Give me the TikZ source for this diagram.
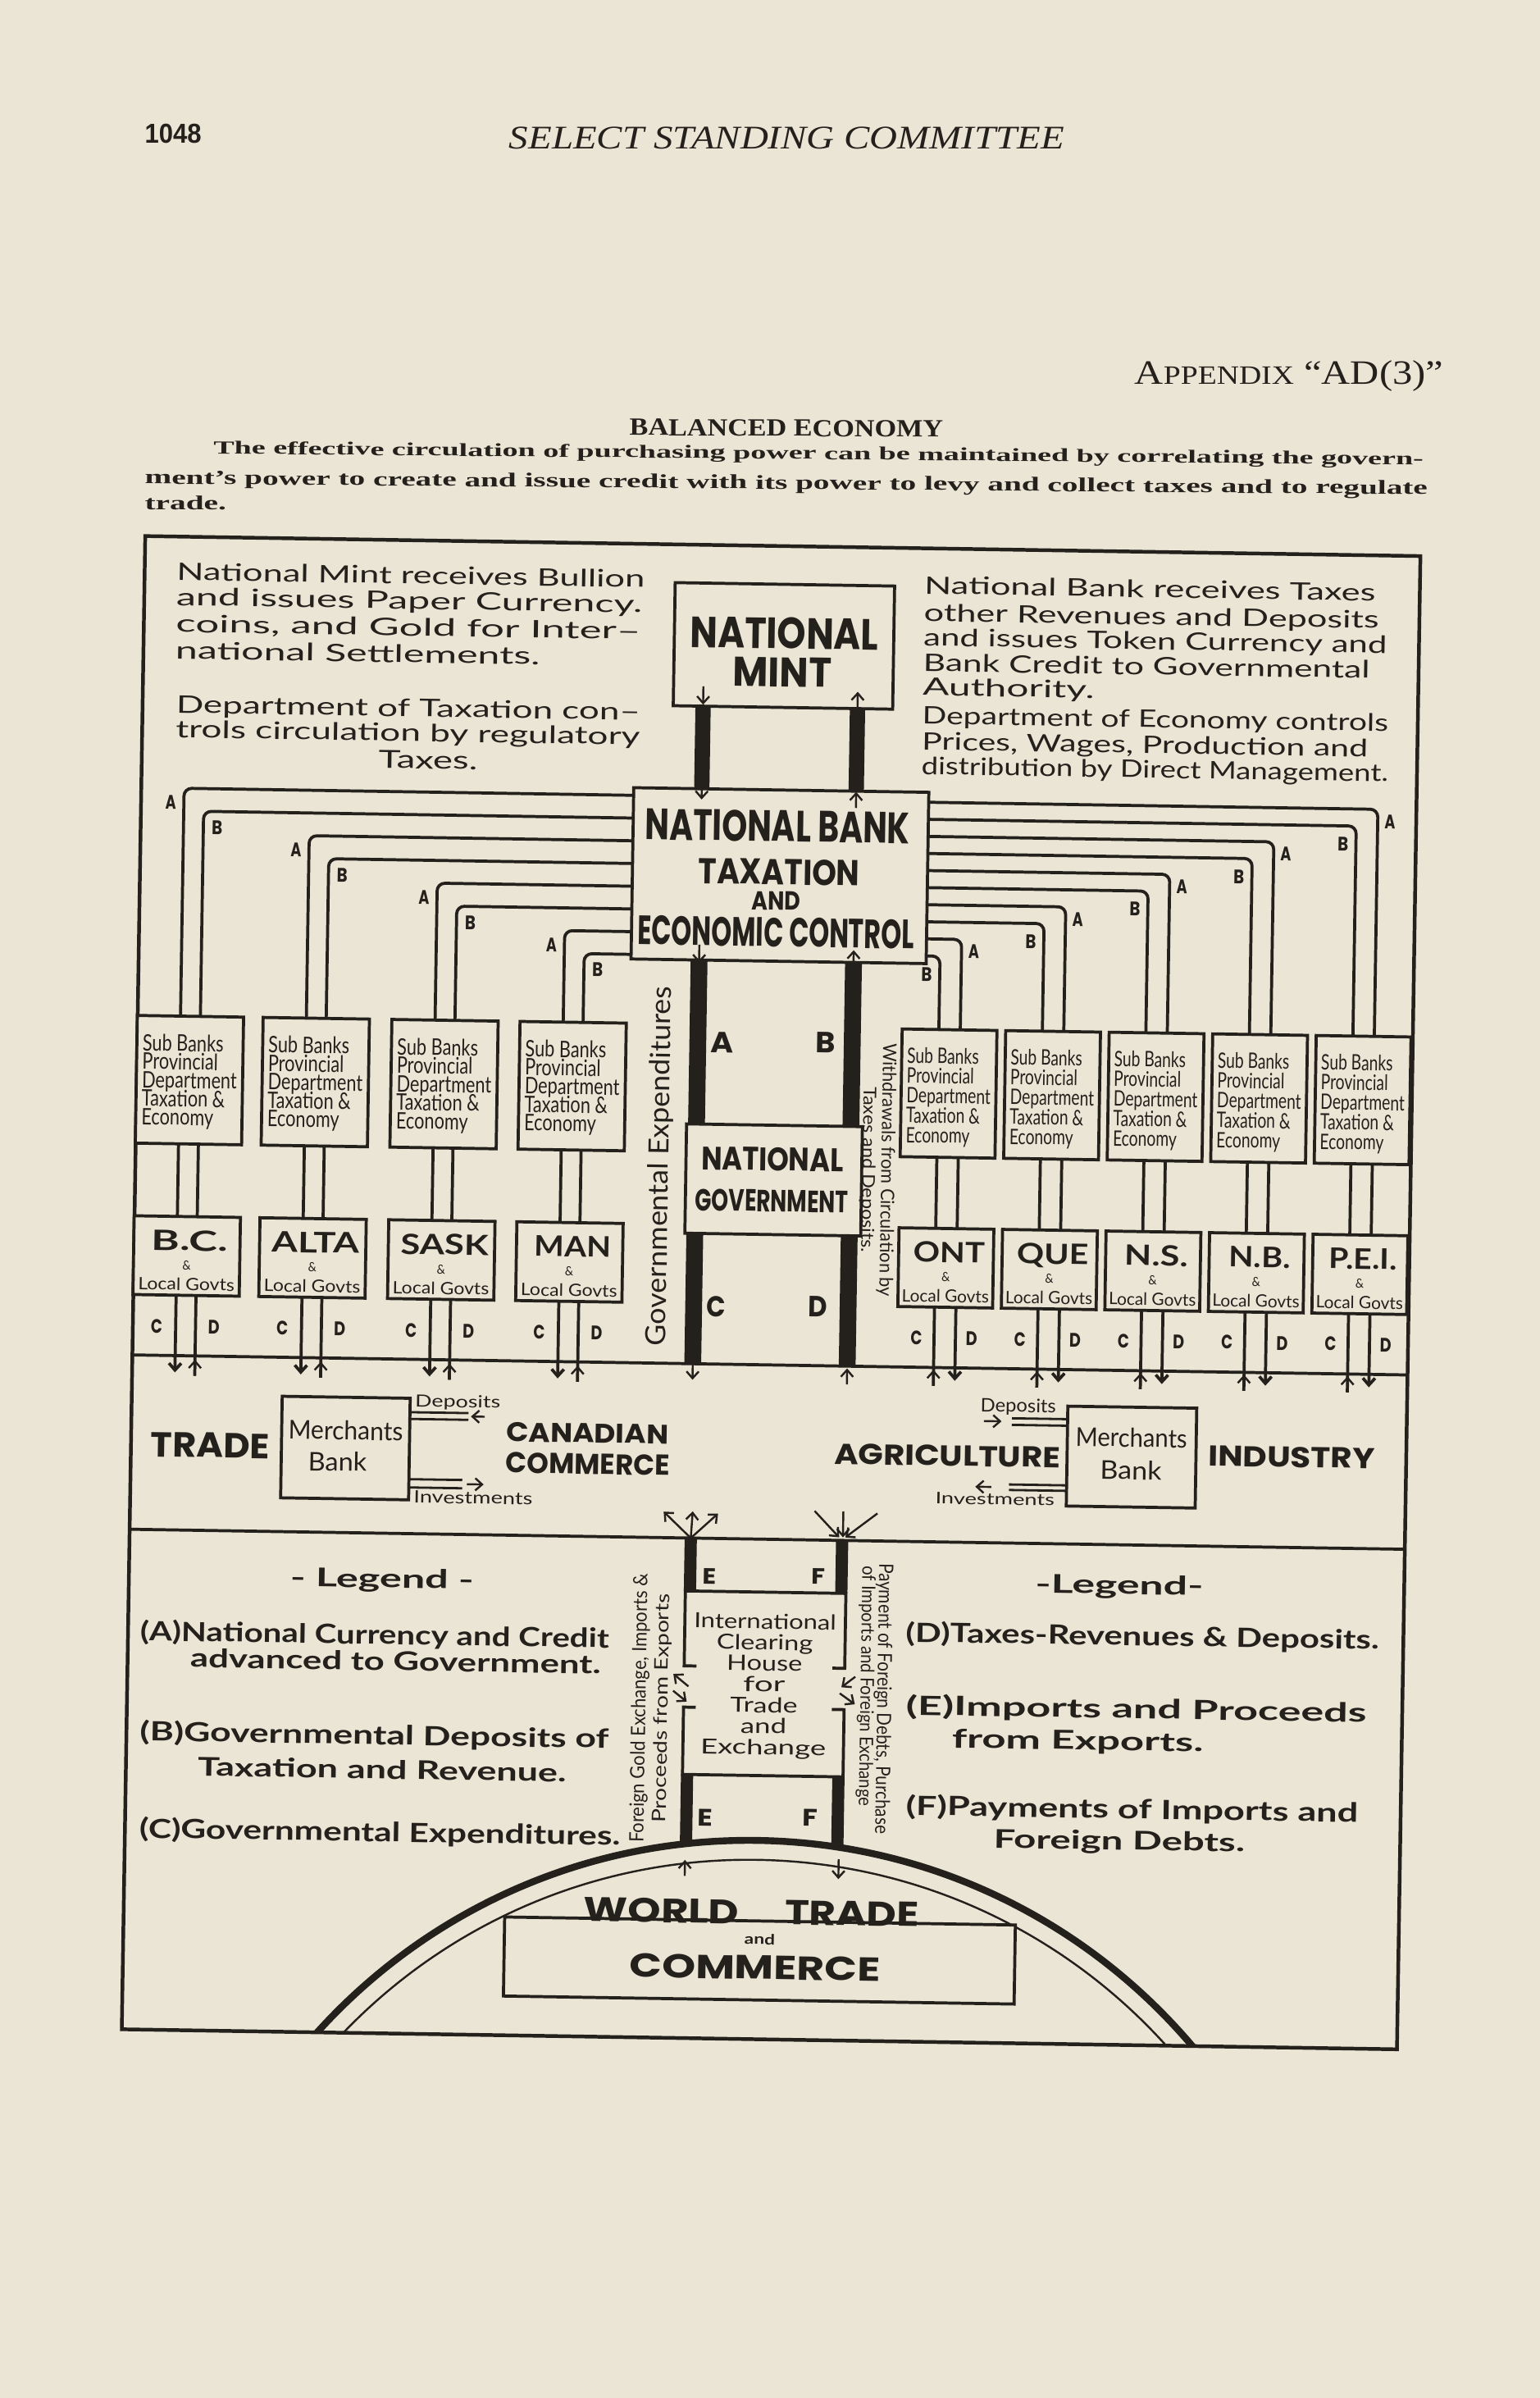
\documentclass[tikz,border=0pt]{standalone}
\usepackage{fontspec}
\usepackage{graphicx}
\usetikzlibrary{arrows.meta}
\setmainfont{Liberation Serif}
\newfontfamily\hand{Lato}
\newfontfamily\caps{Poppins}
\newfontfamily\hsans{Liberation Sans}
\definecolor{paper}{RGB}{234,229,213}
\definecolor{ink}{RGB}{36,32,28}
\newcommand\RB[3]{\resizebox{#1pt}{#2pt}{#3}}
\newcommand\VB{\lineskiplimit=-1000pt\lineskip=0pt}
\newcommand\SBtext[3]{\resizebox{#1pt}{#3pt}{\vbox{\hand\fontsize{10}{#2}\selectfont
  \baselineskip=#2pt\lineskiplimit=-100pt\lineskip=0pt
  \hbox{Sub Banks}\hbox{Provincial}\hbox{Department}\hbox{Taxation \&}\hbox{Economy}}}}
\tikzset{
  lbl/.style={inner sep=0pt, outer sep=0pt, anchor=base west, text=ink},
  lblc/.style={inner sep=0pt, outer sep=0pt, anchor=base, text=ink},
  box/.style={draw=ink, line width=2pt, fill=paper, inner sep=0pt, outer sep=0pt},
  conn/.style={ink, line width=2pt, rounded corners=5pt},
  >={Straight Barb[length=4.5pt,width=8pt]},
  arr/.style={ink, line width=1.3pt, ->},
}
% sub bank box: name, cx, top, boxw, textw, inner skip, height
\newcommand\SB[7]{%
  \node[box, minimum width=#4, minimum height=83.5, anchor=north] (#1) at (#2,#3) {};
  \node[inner sep=0pt, outer sep=0pt, anchor=north, text=ink] (#1t) at (#2,#3+12) {\SBtext{#5}{#6}{#7}};
}
% province box: name, cx, label, labelw, boxw, localw
\newcommand\PV[6]{%
  \node[box, minimum width=#5, minimum height=51.5, anchor=north] (#1) at (#2,795) {};
  \node[lblc] (#1a) at (#2+2,817.3) {\RB{#4}{13.4}{\hand\bfseries #3}};
  \node[lblc] (#1b) at (#2,829.8) {\RB{5.5}{6}{\hand\&}};
  \node[lblc] (#1c) at (#2,843.2) {\RB{#6}{8.2}{\hand Local Govts}};
}
\begin{document}
\begin{tikzpicture}[x=1pt,y=-1pt]
\fill[paper] (0,0) rectangle (1007,1568);
\useasboundingbox (0,0) rectangle (1007,1568);
% ---------- header ----------
\node[lbl] (pg) at (94.7,93.5) {\RB{37}{12.5}{\hsans\bfseries 1048}};
\node[lbl] (runhead) at (333,97.5) {\RB{363}{14.3}{\itshape SELECT STANDING COMMITTEE}};
\node[lbl] (app) at (742,251) {\RB{202}{15.5}{{\fontsize{20}{20}\selectfont A}{\fontsize{15.5}{15.5}\selectfont PPENDIX}\fontsize{20}{20}\selectfont\ “AD(3)”}};
\node[lblc, rotate=-0.3] (title) at (514.2,285.2) {\RB{205}{10.7}{\bfseries BALANCED ECONOMY}};
\node[lbl, rotate=-0.53] (p1) at (139.6,296.7) {\RB{791.2}{8.5}{\bfseries The effective circulation of purchasing power can be maintained by correlating the govern-}};
\node[lbl, rotate=-0.48] (p2) at (94.7,316.3) {\RB{838.8}{9}{\bfseries ment’s power to create and issue credit with its power to levy and collect taxes and to regulate}};
\node[lbl] (p3) at (94.7,333.2) {\RB{53.3}{9}{\bfseries trade.}};

\begin{scope}[rotate around={-0.9:(94,349)}, transform shape]
% frame and separators
\draw[ink, line width=2.4pt] (95,350.5) rectangle (929,1327);
\draw[ink, line width=2pt] (95,886) -- (929,886);
\draw[ink, line width=2pt] (95,1000) -- (929,1000);

% ---------- top texts ----------
\node[lbl] (mintnote) at (116,430.5) {\vbox{\VB
  \hbox{\RB{306}{11.6}{\hand National Mint receives Bullion}}
  \baselineskip=16.5pt\hbox{\RB{304.6}{11.6}{\hand and issues Paper Currency.}}
  \baselineskip=17.5pt\hbox{\RB{304}{11.6}{\hand coins, and Gold for Inter–}}
  \baselineskip=17.5pt\hbox{\RB{238.4}{11.6}{\hand national Settlements.}}}};
\node[lbl] (taxnote) at (117,499.8) {\vbox{\VB
  \hbox{\RB{303.5}{11.6}{\hand Department of Taxation con–}}
  \baselineskip=16.1pt\hbox{\RB{303.5}{11.6}{\hand trols circulation by regulatory}}
  \baselineskip=17.9pt\hbox{\kern133pt\RB{64.7}{11.6}{\hand Taxes.}}}};
\node[lbl] (banknote) at (605,498.3) {\vbox{\VB
  \hbox{\RB{295}{11.6}{\hand National Bank receives Taxes}}
  \baselineskip=17.9pt\hbox{\RB{297.5}{11.6}{\hand other Revenues and Deposits}}
  \baselineskip=16.1pt\hbox{\RB{303}{11.6}{\hand and issues Token Currency and}}
  \baselineskip=16.6pt\hbox{\RB{292}{11.6}{\hand Bank Credit to Governmental}}
  \baselineskip=15.8pt\hbox{\RB{112.2}{11.6}{\hand Authority.}}
  \baselineskip=18.6pt\hbox{\RB{304.7}{11.6}{\hand Department of Economy controls}}
  \baselineskip=17pt\hbox{\RB{291.6}{11.6}{\hand Prices, Wages, Production and}}
  \baselineskip=16pt\hbox{\RB{305.2}{11.6}{\hand distribution by Direct Management.}}}};

% ---------- A/B connectors ----------
\foreach \x/\y in {123/515, 136/529.86, 205.3/544.71, 218.3/559.57, 289.5/574.43, 302.5/589.29, 373.3/604.14, 386.3/619}
  {\draw[conn] (417,\y) -- (\x,\y) -- (\x,664);}
\foreach \x/\y [count=\i] in {123/515, 205.3/544.71, 289.5/574.43, 373.3/604.14}
  {\node[lblc] (la\i) at (\x-8.5,\y+14) {\RB{7}{9}{\caps\bfseries A}};}
\foreach \x/\y [count=\i] in {136/529.86, 218.3/559.57, 302.5/589.29, 386.3/619}
  {\node[lblc] (lb\i) at (\x+9,\y+15) {\RB{7}{9}{\caps\bfseries B}};}
\foreach \x/\y in {903.8/516.5, 889.8/527.67, 836.1/538.83, 822.1/550, 768.4/561.17, 754.4/572.33, 700.7/583.5, 686.7/594.67, 633/605.83, 619/617}
  {\draw[conn] (610,\y) -- (\x,\y) -- (\x,665);}
\foreach \x/\y [count=\i] in {903.8/516.5, 836.1/538.83, 768.4/561.17, 700.7/583.5, 633/605.83}
  {\node[lblc] (ra\i) at (\x+8,\y+12.5) {\RB{7}{9}{\caps\bfseries A}};}
\foreach \x/\y [count=\i] in {889.8/527.67, 822.1/550, 754.4/572.33, 686.7/594.67, 619/617}
  {\node[lblc] (rb\i) at (\x-8.5,\y+16.5) {\RB{7}{9}{\caps\bfseries B}};}

% sub bank -> province lines
\foreach \x in {123,136,205.3,218.3,289.5,302.5,373.3,386.3}
  {\draw[conn] (\x,747.5) -- (\x,795);}
\foreach \x in {619,633,686.7,700.7,754.4,768.4,822.1,836.1,889.8,903.8}
  {\draw[conn] (\x,748.5) -- (\x,795);}

% C / D lines, left group (C down, D up)
\foreach \x [count=\i] in {123,205.3,289.5,373.3}
  {\draw[conn,->] (\x,846.5) -- (\x,897);
   \node[lblc] (lc\i) at (\x-12.5,871.5) {\RB{7.5}{9}{\caps\bfseries C}};}
\foreach \x [count=\i] in {136,218.3,302.5,386.3}
  {\draw[conn] (\x,846.5) -- (\x,899);
   \draw[arr] (\x,899) -- (\x,888.5);
   \node[lblc] (ld\i) at (\x+12,871.5) {\RB{7.5}{9}{\caps\bfseries D}};}
% right group (C up, D down)
\foreach \x [count=\i] in {619,686.7,754.4,822.1,889.8}
  {\draw[conn] (\x,846.5) -- (\x,898);
   \draw[arr] (\x,898) -- (\x,887.5);
   \node[lblc] (rc\i) at (\x-11.5,871) {\RB{7.5}{9}{\caps\bfseries C}};}
\foreach \x [count=\i] in {633,700.7,768.4,836.1,903.8}
  {\draw[conn,->] (\x,846.5) -- (\x,894.5);
   \node[lblc] (rd\i) at (\x+10.5,871) {\RB{7.5}{9}{\caps\bfseries D}};}

% ---------- thick bars ----------
\draw[ink, line width=10pt] (461.5,456) -- (461.5,510);
\draw[ink, line width=10pt] (562.5,456) -- (562.5,510);
\draw[ink, line width=11pt] (461.5,622) -- (461.5,886);
\draw[ink, line width=11pt] (562.5,622) -- (562.5,886);

% ---------- central boxes ----------
\node[box, minimum width=143.5, minimum height=80.5] (mint) at (513.75,415.75) {};
\node[lblc] (mintt) at (513,442.5) {\vbox{\VB
  \hbox to 130pt{\hss\kern2pt\RB{123}{20.3}{\caps\bfseries NATIONAL}\hss}
  \baselineskip=25pt\hbox to 130pt{\hss\RB{64.5}{19}{\caps\bfseries MINT}\hss}}};
\node[box, minimum width=193, minimum height=112] (bank) at (513.5,566) {};
\node[lblc] (bankt) at (511.5,612.5) {\vbox{\VB
  \hbox to 185pt{\hss\RB{173}{20.4}{\caps\bfseries NATIONAL BANK}\hss}
  \baselineskip=28.2pt\hbox to 185pt{\hss\kern3pt\RB{105.4}{16.7}{\caps\bfseries TAXATION}\hss}
  \baselineskip=16.6pt\hbox to 185pt{\hss\RB{32}{12}{\caps\bfseries AND}\hss}
  \baselineskip=24pt\hbox to 185pt{\hss\RB{180.7}{19}{\caps\bfseries ECONOMIC CONTROL}\hss}}};
\node[box, minimum width=115, minimum height=71.5] (gov) at (512.5,765) {};
\node[lblc] (govt) at (511.5,785.8) {\vbox{\VB
  \hbox to 108pt{\hss\RB{93}{15.2}{\caps\bfseries NATIONAL}\hss}
  \baselineskip=26.8pt\hbox to 108pt{\hss\RB{100}{14.3}{\caps\bfseries GOVERNMENT}\hss}}};
\node[lblc] (barA) at (477.2,682.6) {\RB{15}{13.4}{\caps\bfseries A}};
\node[lblc] (barB) at (545.2,681.5) {\RB{13}{13.4}{\caps\bfseries B}};
\node[lblc] (barC) at (476.4,855.1) {\RB{12.5}{13.4}{\caps\bfseries C}};
\node[lblc] (barD) at (542.6,854) {\RB{12.5}{13.4}{\caps\bfseries D}};
% small flow arrows on bars
\draw[arr] (461.5,443) -- (461.5,455);
\draw[arr] (562.5,457) -- (562.5,445);
\draw[arr] (461.5,507) -- (461.5,517);
\draw[arr] (562.5,521) -- (562.5,510.5);
\draw[arr] (461.5,612) -- (461.5,624);
\draw[arr] (562.5,625) -- (562.5,614);
\draw[arr] (461.5,886) -- (461.5,896.5);
\draw[arr] (562.5,898) -- (562.5,887.5);
% vertical captions
\node[lblc, rotate=90] (gexp) at (443.5,757.2) {\RB{235}{13.4}{\hand Governmental Expenditures}};
\node[lblc, rotate=-90] (wd) at (570.5,757.4) {\vbox{\VB
  \hbox to 170pt{\hss\RB{165.6}{9}{\hand Withdrawals from Circulation by}\hss}
  \baselineskip=12.3pt\hbox to 170pt{\hss\RB{108.5}{8.5}{\hand Taxes and Deposits.}\hss}}};

% ---------- sub banks ----------
\SB{sb1}{129.5}{664}{69.5}{62}{8.1}{59.3}
\SB{sb2}{211.8}{664}{69.5}{62}{8.1}{59.3}
\SB{sb3}{296}{664}{69.5}{62}{8.1}{59.3}
\SB{sb4}{379.8}{664}{69.5}{62}{8.1}{59.3}
\SB{sb5}{626}{665}{62}{55}{9.31}{62.2}
\SB{sb6}{693.7}{665}{62}{55}{9.31}{62.2}
\SB{sb7}{761.4}{665}{62}{55}{9.31}{62.2}
\SB{sb8}{829.1}{665}{62}{55}{9.31}{62.2}
\SB{sb9}{896.8}{665}{62}{55}{9.31}{62.2}
% ---------- provinces ----------
\PV{bc}{129.5}{B.C.}{50}{69.5}{63}
\PV{alta}{211.8}{ALTA}{57.4}{69.5}{63}
\PV{sask}{296}{SASK}{57.4}{69.5}{63}
\PV{man}{379.8}{MAN}{50}{69.5}{63}
\PV{ont}{626}{ONT}{46.8}{62}{57}
\PV{que}{693.7}{QUE}{46.8}{62}{57}
\PV{ns}{761.4}{N.S.}{41.6}{62}{57}
\PV{nb}{829.1}{N.B.}{40.3}{62}{57}
\PV{pei}{896.8}{P.E.I.}{44.2}{62}{57}

% ---------- trade section ----------
\node[lbl] (trade) at (108.1,952.3) {\RB{77.8}{16}{\caps\bfseries TRADE}};
\node[box, minimum width=83.7, minimum height=66.4] (mbl) at (235.25,944.7) {};
\node[lblc] (mblt) at (235.3,959.8) {\vbox{\VB
  \hbox to 80pt{\hss\RB{75}{12.5}{\hand Merchants}\hss}
  \baselineskip=20.5pt\hbox to 80pt{\hss\RB{38.4}{12.4}{\hand Bank}\hss\kern10.2pt}}};
\draw[ink, line width=1.5pt] (277.1,920.6) -- (315.4,920.6) (277.1,925) -- (315.4,925);
\draw[ink, line width=1.5pt] (277.1,964.4) -- (312,964.4) (277.1,969.8) -- (312,969.8);
\draw[arr] (326,922.8) -- (317,922.8);
\draw[arr] (315,967.1) -- (326,967.1);
\node[lbl] (depl) at (280.4,917) {\RB{55.7}{8}{\hand Deposits}};
\node[lbl] (invl) at (280.4,979.8) {\RB{77.7}{8}{\hand Investments}};
\node[lbl] (can) at (340.4,959.3) {\vbox{\VB
  \hbox{\RB{106}{12.5}{\caps\bfseries CANADIAN}}
  \baselineskip=20.6pt\hbox{\RB{107}{13.4}{\caps\bfseries COMMERCE}}}};
\node[lbl] (agri) at (554.9,950.2) {\RB{148}{13.4}{\caps\bfseries AGRICULTURE}};
\node[box, minimum width=84.3, minimum height=65.3] (mbr) at (749.35,942.55) {};
\node[lblc] (mbrt) at (749.1,957.3) {\vbox{\VB
  \hbox to 80pt{\hss\RB{72.9}{12.5}{\hand Merchants}\hss}
  \baselineskip=21.4pt\hbox to 80pt{\hss\RB{40.3}{12.4}{\hand Bank}\hss}}};
\draw[ink, line width=1.5pt] (670.8,918.4) -- (707.2,918.4) (670.8,922.7) -- (707.2,922.7);
\draw[ink, line width=1.5pt] (669.5,961.7) -- (707.2,961.7) (669.5,965.3) -- (707.2,965.3);
\draw[arr] (652.5,920.5) -- (664,920.5);
\draw[arr] (658,963.5) -- (647.5,963.5);
\node[lbl] (depr) at (650.1,914.3) {\RB{49.4}{8.9}{\hand Deposits}};
\node[lbl] (invr) at (621.5,975.2) {\RB{78}{7.5}{\hand Investments}};
\node[lbl] (ind) at (799.5,947.6) {\RB{109}{13.4}{\caps\bfseries INDUSTRY}};

% ---------- clearing column ----------
\draw[ink, line width=8pt] (462,1000) -- (462,1034.6);
\draw[ink, line width=8pt] (561,1000) -- (561,1034.6);
\draw[ink, line width=8pt] (462,1154.6) -- (462,1201);
\draw[ink, line width=8pt] (561,1154.6) -- (561,1201);
\node[inner sep=0pt, minimum width=105, minimum height=120] (clear) at (511.5,1094.6) {};
\draw[ink, line width=2pt] (467,1083.6) -- (459,1083.6) -- (459,1034.6) -- (564,1034.6) -- (564,1083.6) -- (556,1083.6);
\draw[ink, line width=2pt] (467,1110.6) -- (459,1110.6) -- (459,1154.6) -- (564,1154.6) -- (564,1110.6) -- (556,1110.6);
\draw[arr] (462,1097) -- (452,1089);
\draw[arr] (452,1100) -- (461,1107);
\draw[arr] (571,1089) -- (562,1096);
\draw[arr] (561,1100) -- (571,1107);
\node[lblc] (clt) at (511.5,1140.8) {\vbox{\VB\baselineskip=13.7pt
  \hbox to 100pt{\hss\RB{93}{10}{\hand International}\hss}
  \hbox to 100pt{\hss\RB{63}{10}{\hand Clearing}\hss}
  \hbox to 100pt{\hss\RB{49.3}{10}{\hand House}\hss}
  \hbox to 100pt{\hss\RB{27.4}{10}{\hand for}\hss}
  \hbox to 100pt{\hss\RB{44}{10}{\hand Trade}\hss}
  \hbox to 100pt{\hss\RB{30}{10}{\hand and}\hss}
  \hbox to 100pt{\hss\RB{82}{10}{\hand Exchange}\hss}}};
\node[lblc] (e1) at (474.5,1030) {\RB{9}{10.2}{\caps\bfseries E}};
\node[lblc] (f1) at (545.7,1029) {\RB{9}{10.2}{\caps\bfseries F}};
\node[lblc] (e2) at (474.2,1188) {\RB{10}{11}{\caps\bfseries E}};
\node[lblc] (f2) at (542.7,1187) {\RB{10}{11}{\caps\bfseries F}};
% arrows at top of column
\draw[arr] (462,1000) -- (444,983);
\draw[arr] (462,1000) -- (463,982.5);
\draw[arr] (462,1000) -- (479.6,983.7);
\draw[arr] (542.7,981) -- (559,998);
\draw[arr] (561.5,981) -- (561.5,998);
\draw[arr] (583.8,982) -- (563,998);
% side captions
\node[lblc, rotate=90] (fg) at (448.6,1111.7) {\vbox{\VB
  \hbox to 180pt{\hss\RB{176}{9.5}{\hand Foreign Gold Exchange, Imports \&}\hss}
  \baselineskip=14.5pt\hbox to 180pt{\hss\RB{149.6}{9}{\hand Proceeds from Exports}\hss}}};
\node[lblc, rotate=-90] (pf) at (574.6,1103) {\vbox{\VB
  \hbox to 180pt{\hss\RB{177}{9.5}{\hand Payment of Foreign Debts, Purchase}\hss}
  \baselineskip=11pt\hbox to 180pt{\hss\RB{157}{9}{\hand of Imports and Foreign Exchange}\hss\kern16pt}}};

% ---------- world arc ----------
\begin{scope}
\clip (95,350.5) rectangle (929,1327);
\draw[ink, line width=4.5pt] (509,1577) circle (380);
\draw[ink, line width=1.3pt] (509,1577) circle (367.3);
\end{scope}
\draw[arr] (461.5,1221) -- (461.5,1210.5);
\draw[arr] (562,1208.5) -- (562,1221.5);
\node[box, minimum width=334, minimum height=51.7] (world) at (511.2,1275.5) {};
\node[lbl] (wt) at (391.2,1287.7) {\vbox{\VB
  \hbox to 240pt{\kern4.8pt\RB{101.5}{15.8}{\caps\bfseries WORLD}\kern30pt\RB{87.5}{15.8}{\caps\bfseries TRADE}\hss}
  \baselineskip=13.3pt\hbox to 240pt{\hss\RB{20}{7}{\hand\bfseries and}\hss}
  \baselineskip=22.7pt\hbox to 240pt{\kern35.2pt\RB{164.2}{15.5}{\caps\bfseries COMMERCE}\hss}}};

% ---------- legends ----------
\node[lblc] (lg1) at (260.6,1035.6) {\RB{120}{12.5}{\hand\bfseries - Legend -}};
\node[lbl] (lgA) at (103,1089.6) {\vbox{\VB
  \hbox{\RB{306.5}{13.6}{\hand\bfseries (A)National Currency and Credit}}
  \baselineskip=17pt\hbox{\kern33pt\RB{268.5}{12.5}{\hand\bfseries advanced to Government.}}}};
\node[lbl] (lgB) at (103.8,1160.6) {\vbox{\VB
  \hbox{\RB{306.5}{13.6}{\hand\bfseries (B)Governmental Deposits of}}
  \baselineskip=22.4pt\hbox{\kern38.2pt\RB{241}{12.5}{\hand\bfseries Taxation and Revenue.}}}};
\node[lbl] (lgC) at (104.5,1201.6) {\RB{314.5}{13.6}{\hand\bfseries (C)Governmental Expenditures.}};
\node[lblc] (lg2) at (742.7,1032.2) {\RB{110}{12.5}{\hand\bfseries -Legend-}};
\node[lbl] (lgD) at (603.6,1065.7) {\RB{309.5}{13.6}{\hand\bfseries (D)Taxes-Revenues \& Deposits.}};
\node[lbl] (lgE) at (604.4,1134.4) {\vbox{\VB
  \hbox{\RB{301.2}{13.6}{\hand\bfseries (E)Imports and Proceeds}}
  \baselineskip=21pt\hbox{\kern30.5pt\RB{164.3}{12.5}{\hand\bfseries from Exports.}}}};
\node[lbl] (lgF) at (605.4,1199.5) {\vbox{\VB
  \hbox{\RB{295.7}{13.6}{\hand\bfseries (F)Payments of Imports and}}
  \baselineskip=20.6pt\hbox{\kern57.7pt\RB{164.3}{12.5}{\hand\bfseries Foreign Debts.}}}};
\end{scope}
\end{tikzpicture}
\end{document}
